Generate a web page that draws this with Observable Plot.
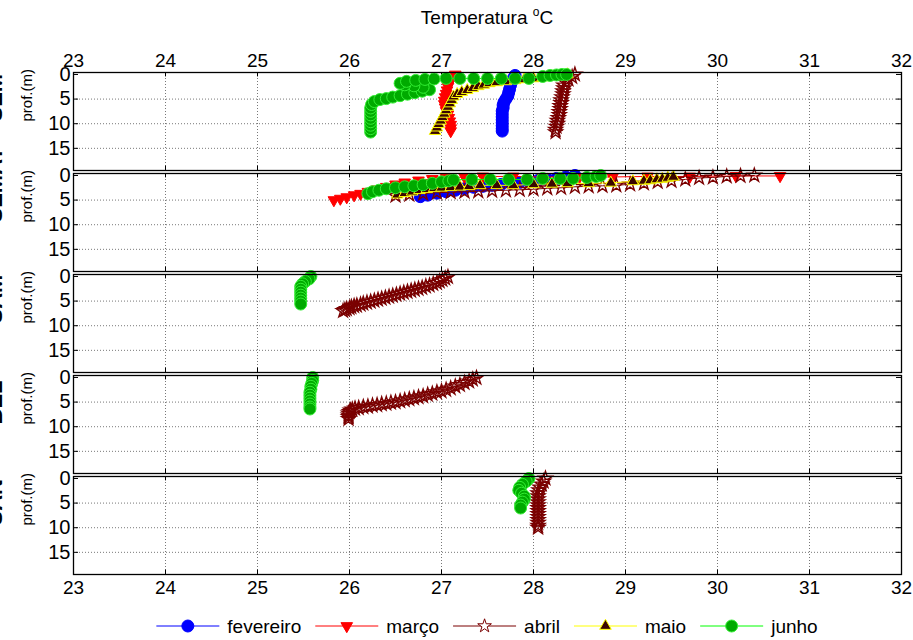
<!DOCTYPE html>
<html><head><meta charset="utf-8">
<script src="https://cdn.jsdelivr.net/npm/d3@7"></script>
<script src="https://cdn.jsdelivr.net/npm/@observablehq/plot@0.6"></script>
<style>
body{margin:0;background:#fff;font-family:"Liberation Sans",Arial,sans-serif;}
#title{height:36px;line-height:36px;padding-left:73px;padding-right:12px;text-align:center;font-size:19px;color:#000;}
#title sup{font-size:12px;line-height:0;vertical-align:8px;}
#chart svg{display:block;}
#legend svg{display:block;}
</style></head><body>
<div id="title">Temperatura <sup>o</sup>C</div>
<div id="chart"></div>
<div id="legend"></div>
<script>
// ---------- data ----------
const stations = ["SEM", "SEMAT", "SAM", "BEL", "SAN"];
const months = ["fevereiro", "março", "abril", "maio", "junho"];
const xTicks = [23, 24, 25, 26, 27, 28, 29, 30, 31, 32];
const yTicks = [0, 5, 10, 15];

// panel 1  [temperature, depth]
const s1_fevereiro = [[27.80,0.2],[27.78,0.8],[27.76,1.5],[27.75,2.2],[27.74,3.0],[27.73,3.7],[27.72,4.4],[27.70,5.0],[27.68,5.6],[27.67,6.2],[27.67,6.8],[27.66,7.4],[27.66,8.0],[27.66,8.6],[27.66,9.2],[27.66,9.8],[27.66,10.4],[27.66,11.0],[27.66,11.5]];
const s1_marco = [[27.15,0.0],[27.12,0.6],[27.10,1.2],[27.08,1.8],[27.07,2.5],[27.06,3.2],[27.05,3.9],[27.04,4.6],[27.03,5.3],[27.03,6.0],[27.04,6.7],[27.05,7.4],[27.07,8.1],[27.08,8.8],[27.09,9.5],[27.10,10.2],[27.10,10.9],[27.10,11.5]];
const s1_abril = [[28.45,0.0],[28.42,0.5],[28.38,1.0],[28.35,1.6],[28.33,2.2],[28.33,2.8],[28.32,3.4],[28.32,4.0],[28.31,4.6],[28.30,5.2],[28.30,5.8],[28.29,6.4],[28.29,7.0],[28.28,7.6],[28.28,8.2],[28.27,8.8],[28.26,9.4],[28.26,10.0],[28.25,10.6],[28.24,11.2],[28.24,11.7]];
const s1_maio = [[26.93,11.5],[26.95,10.8],[26.97,10.1],[26.99,9.4],[27.01,8.7],[27.03,8.0],[27.05,7.3],[27.07,6.6],[27.09,5.9],[27.11,5.2],[27.13,4.5],[27.17,4.0],[27.22,3.6],[27.28,3.2],[27.34,2.8],[27.40,2.4],[27.46,2.1],[27.52,1.8],[27.60,1.6],[27.70,1.4],[27.80,1.2],[27.90,1.0],[28.00,0.8],[28.10,0.6],[28.20,0.4],[28.30,0.2],[28.37,0.0]];
const s1_junho = [[26.23,11.7],[26.23,11.0],[26.23,10.3],[26.23,9.6],[26.23,8.9],[26.23,8.2],[26.23,7.5],[26.23,6.8],[26.24,6.1],[26.27,5.5],[26.33,5.1],[26.40,4.9],[26.47,4.6],[26.55,4.3],[26.63,4.0],[26.71,3.7],[26.79,3.4],[26.87,3.1],[26.80,2.6],[26.70,2.3],[26.60,2.1],[26.55,1.8],[26.62,1.4],[26.72,1.2],[26.82,1.0],[26.92,0.9],[27.05,0.8],[27.20,0.8],[27.35,0.8],[27.50,0.8],[27.65,0.8],[27.80,0.8],[27.95,0.8],[28.10,0.4],[28.18,0.2],[28.25,0.1],[28.31,0.0],[28.36,0.0]];

// panel 2
const s2_fevereiro = [[26.77,4.3],[26.85,4.0],[26.95,3.6],[27.05,3.3],[27.15,3.0],[27.25,2.7],[27.35,2.4],[27.45,2.2],[27.55,2.0],[27.65,1.8],[27.75,1.6],[27.85,1.4],[27.95,1.2],[28.05,1.0],[28.15,0.8],[28.25,0.6],[28.35,0.3],[28.45,0.0]];
const s2_marco = [[25.83,5.0],[25.90,4.7],[25.97,4.4],[26.05,4.0],[26.12,3.7],[26.20,3.3],[26.30,2.8],[26.40,2.3],[26.50,1.8],[26.60,1.4],[26.75,1.0],[26.90,0.7],[27.05,0.5],[27.25,0.3],[27.45,0.2],[27.78,0.2],[28.10,0.3],[28.50,0.3],[28.86,0.3],[29.24,0.2],[29.70,0.2],[30.20,0.1],[30.68,0.1]];
const s2_abril = [[26.50,4.1],[26.65,3.9],[26.80,3.7],[26.95,3.5],[27.10,3.4],[27.25,3.3],[27.40,3.2],[27.55,3.1],[27.70,3.0],[27.85,2.9],[28.00,2.8],[28.15,2.6],[28.30,2.5],[28.45,2.3],[28.60,2.2],[28.75,2.1],[28.90,2.0],[29.05,1.8],[29.20,1.6],[29.35,1.3],[29.50,1.1],[29.65,0.8],[29.80,0.5],[29.95,0.4],[30.10,0.2],[30.25,0.1],[30.40,0.0]];
const s2_maio = [[26.52,3.9],[26.60,3.6],[26.68,3.3],[26.76,3.0],[26.84,2.8],[26.92,2.6],[27.00,2.5],[27.10,2.4],[27.20,2.3],[27.30,2.2],[27.42,2.0],[27.60,2.0],[27.78,2.0],[28.00,1.8],[28.20,1.7],[28.37,1.6],[28.60,1.6],[28.84,1.5],[29.08,1.2],[29.20,1.1],[29.27,1.0],[29.34,0.8],[29.40,0.7],[29.46,0.5],[29.52,0.3]];
const s2_junho = [[26.20,3.7],[26.25,3.3],[26.32,3.0],[26.40,2.7],[26.50,2.5],[26.60,2.3],[26.70,2.1],[26.80,1.9],[26.90,1.6],[27.00,1.3],[27.08,1.1],[27.13,0.9],[27.33,0.8],[27.53,0.8],[27.73,0.8],[27.93,0.8],[28.10,0.6],[28.29,0.6],[28.43,0.6],[28.58,0.4],[28.68,0.2],[28.73,0.0]];

// panel 3
const s3_abril = [[25.93,7.0],[25.95,6.8],[25.97,6.6],[26.00,6.4],[26.02,6.2],[26.05,6.0],[26.08,5.9],[26.12,5.7],[26.15,5.5],[26.19,5.3],[26.23,5.1],[26.27,4.9],[26.31,4.7],[26.35,4.5],[26.39,4.3],[26.43,4.1],[26.47,3.9],[26.51,3.7],[26.55,3.5],[26.59,3.3],[26.63,3.1],[26.67,2.9],[26.71,2.7],[26.75,2.5],[26.79,2.3],[26.83,2.0],[26.87,1.8],[26.91,1.5],[26.95,1.3],[26.98,1.0],[27.01,0.7],[27.04,0.4],[27.07,0.1]];
const s3_junho = [[25.58,0.0],[25.56,0.5],[25.52,1.0],[25.49,1.5],[25.47,2.0],[25.47,2.6],[25.47,3.2],[25.47,3.8],[25.47,4.4],[25.47,5.0],[25.47,5.6]];

// panel 4
const s4_abril = [[25.99,8.4],[25.99,8.0],[25.99,7.7],[25.99,7.3],[26.00,7.0],[26.01,6.7],[26.03,6.5],[26.06,6.3],[26.10,6.2],[26.15,6.0],[26.20,5.9],[26.25,5.7],[26.30,5.6],[26.35,5.4],[26.40,5.3],[26.45,5.1],[26.50,5.0],[26.55,4.8],[26.60,4.6],[26.65,4.4],[26.70,4.2],[26.75,4.0],[26.80,3.8],[26.85,3.5],[26.90,3.3],[26.95,3.0],[27.00,2.8],[27.05,2.5],[27.10,2.2],[27.15,1.8],[27.20,1.5],[27.25,1.1],[27.30,0.8],[27.34,0.4],[27.38,0.1]];
const s4_junho = [[25.60,0.0],[25.60,0.6],[25.59,1.2],[25.58,1.8],[25.58,2.4],[25.57,3.0],[25.57,3.6],[25.57,4.2],[25.57,4.8],[25.57,5.4],[25.57,6.0],[25.57,6.4]];

// panel 5
const s5_abril = [[28.13,0.0],[28.11,0.6],[28.09,1.2],[28.07,1.8],[28.06,2.4],[28.05,3.0],[28.05,3.6],[28.05,4.2],[28.05,4.8],[28.05,5.4],[28.05,6.0],[28.05,6.6],[28.05,7.2],[28.05,7.8],[28.05,8.4],[28.05,9.0],[28.05,9.6],[28.05,10.0]];
const s5_junho = [[27.95,0.0],[27.92,0.6],[27.88,1.2],[27.85,1.8],[27.84,2.4],[27.87,3.0],[27.90,3.6],[27.90,4.2],[27.88,4.8],[27.86,5.4],[27.86,6.0]];

// ---------- build table ----------
const profiles = [
  [stations[0], "fevereiro", s1_fevereiro], [stations[0], "março", s1_marco], [stations[0], "abril", s1_abril], [stations[0], "maio", s1_maio], [stations[0], "junho", s1_junho],
  [stations[1], "fevereiro", s2_fevereiro], [stations[1], "março", s2_marco], [stations[1], "abril", s2_abril], [stations[1], "maio", s2_maio], [stations[1], "junho", s2_junho],
  [stations[2], "abril", s3_abril], [stations[2], "junho", s3_junho],
  [stations[3], "abril", s4_abril], [stations[3], "junho", s4_junho],
  [stations[4], "abril", s5_abril], [stations[4], "junho", s5_junho]
];
const rows = profiles.flatMap(([station, month, pts]) => pts.map(([T, d]) => ({station, month, T, d})));

const triangleDown = {
  draw(ctx, size) {
    const y = Math.sqrt(size / (Math.sqrt(3) * 3));
    ctx.moveTo(0, 2 * y);
    ctx.lineTo(-Math.sqrt(3) * y, -y);
    ctx.lineTo(Math.sqrt(3) * y, -y);
    ctx.closePath();
  }
};

const styles = {
  "fevereiro": {line: "#0000ff", symbol: "circle", fill: "#0000ff", stroke: "#0000ff", r: 6, sw: 1, d3sym: d3.symbolCircle},
  "março":     {line: "#ff0000", symbol: triangleDown, fill: "#ff0000", stroke: "#ff0000", r: 4.3, sw: 1, d3sym: triangleDown},
  "abril":     {line: "#7a0000", symbol: "star", fill: "none", stroke: "#7a0000", r: 4.3, sw: 1.4, d3sym: d3.symbolStar},
  "maio":      {line: "#ffff00", symbol: "triangle", fill: "#3a0500", stroke: "#ffff00", r: 4.3, sw: 1, d3sym: d3.symbolTriangle},
  "junho":     {line: "#00ff00", symbol: "circle", fill: "#00aa00", stroke: "#33ee33", r: 6, sw: 1, d3sym: d3.symbolCircle}
};

// ---------- layout ----------
const W = 913, H = 570, mL = 73, mR = 12, mT = 35, mB = 30, gap = 3;
const nP = stations.length;
const panelH = (H - mT - mB - gap * (nP - 1)) / nP;
const innerW = W - mL - mR;
const font = "'Liberation Sans', Arial, sans-serif";

const seriesMarks = months.flatMap(m => {
  const s = styles[m];
  const data = rows.filter(r => r.month === m);
  return [
    Plot.line(data, {x: "T", y: "d", fy: "station", stroke: s.line, strokeWidth: 1}),
    Plot.dot(data, {x: "T", y: "d", fy: "station", symbol: s.symbol, r: s.r, fill: s.fill, stroke: s.stroke, strokeWidth: s.sw})
  ];
});

const plot = Plot.plot({
  width: W, height: H,
  marginLeft: mL, marginRight: mR, marginTop: mT, marginBottom: mB,
  style: {fontFamily: font, fontSize: "19px", color: "#000", background: "#fff", overflow: "hidden"},
  x: {domain: [23, 32], label: null},
  y: {domain: [-0.4, 19.5], reverse: true, label: null},
  fy: {domain: stations, paddingInner: gap / (panelH + gap), paddingOuter: 0, axis: null, label: null},
  marks: [
    Plot.gridX(xTicks, {stroke: "#555", strokeOpacity: 1, strokeWidth: 0.8, strokeDasharray: "1,2"}),
    Plot.gridY([5, 10, 15], {stroke: "#555", strokeOpacity: 1, strokeWidth: 0.8, strokeDasharray: "1,2"}),
    Plot.tickX(xTicks, {x: d => d, insetBottom: panelH - 5, stroke: "#000"}),
    Plot.tickX(xTicks, {x: d => d, insetTop: panelH - 5, stroke: "#000"}),
    Plot.tickY(yTicks, {y: d => d, insetRight: innerW - 5, stroke: "#000"}),
    Plot.tickY(yTicks, {y: d => d, insetLeft: innerW - 5, stroke: "#000"}),
    ...seriesMarks,
    Plot.frame({stroke: "#000", strokeWidth: 1.3}),
    Plot.axisX(xTicks, {anchor: "top", tickSize: 0, tickPadding: 6, label: null, fontSize: 19}),
    Plot.axisX(xTicks, {anchor: "bottom", tickSize: 0, tickPadding: 6, label: null, fontSize: 19}),
    Plot.axisY(yTicks, {anchor: "left", tickSize: 0, tickPadding: 3, label: null, fontSize: 20}),
    Plot.text(stations, {fy: d => d, text: d => d, frameAnchor: "left", dx: -79, rotate: -90, fontWeight: "bold", fontSize: 22}),
    Plot.text(stations, {fy: d => d, text: () => "prof.(m)", frameAnchor: "left", dx: -46, rotate: -90, fontSize: 15})
  ]
});
document.getElementById("chart").appendChild(plot);

// ---------- legend ----------
const legH = 40;
const leg = d3.select("#legend").append("svg").attr("width", W).attr("height", legH)
  .style("font-family", font).style("font-size", "19px");
const lineLen = 63, afterLine = 8, itemGap = 14;
const items = leg.selectAll("g").data(months).join("g");
items.append("line").attr("x1", 0).attr("x2", lineLen).attr("y1", 20).attr("y2", 20)
  .attr("stroke", m => styles[m].line).attr("stroke-width", 1);
items.append("path")
  .attr("transform", `translate(${lineLen / 2},20)`)
  .attr("d", m => d3.symbol(styles[m].d3sym, Math.PI * styles[m].r * styles[m].r)())
  .attr("fill", m => styles[m].fill === "none" ? "#fff" : styles[m].fill)
  .attr("stroke", m => styles[m].stroke).attr("stroke-width", 1);
items.append("text").attr("x", lineLen + afterLine).attr("y", 20).attr("dy", "0.35em").text(m => m);
let widths = [];
items.each(function() { widths.push(this.querySelector("text").getComputedTextLength() + lineLen + afterLine); });
const total = d3.sum(widths) + itemGap * (widths.length - 1);
let x0 = (mL + innerW / 2) - total / 2;
items.attr("transform", (m, i) => { const x = x0; x0 += widths[i] + itemGap; return `translate(${x},0)`; });
</script></body></html>
